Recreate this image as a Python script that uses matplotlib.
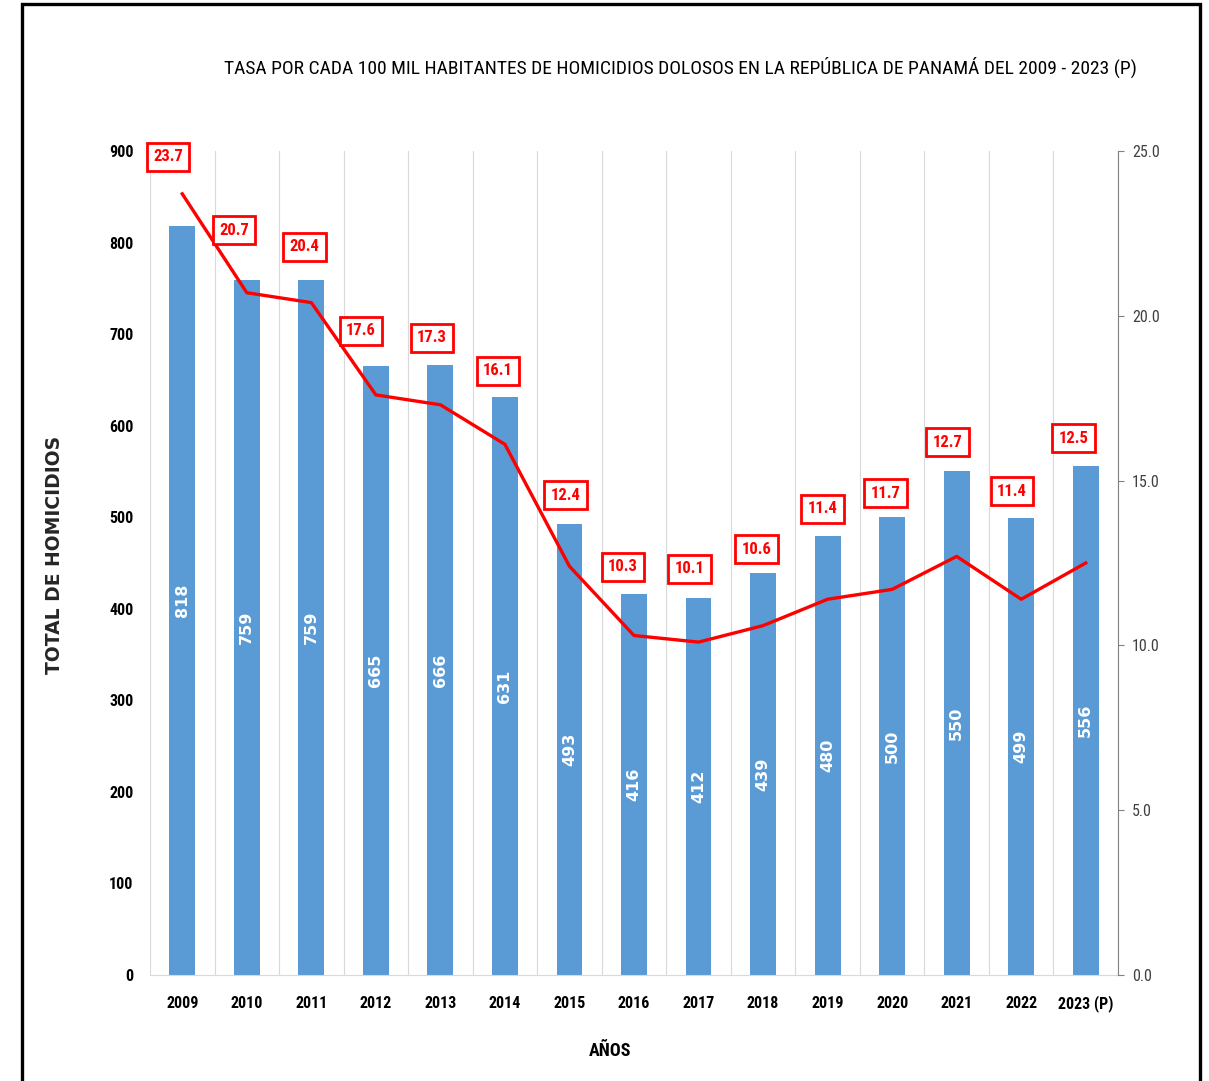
import matplotlib
matplotlib.use("Agg")
import matplotlib.pyplot as plt
from matplotlib import font_manager
from matplotlib.font_manager import FontProperties
from matplotlib.patches import Rectangle

# ---- data ----
years = ["2009", "2010", "2011", "2012", "2013", "2014", "2015", "2016",
         "2017", "2018", "2019", "2020", "2021", "2022", "2023 (P)"]
homicides = [818, 759, 759, 665, 666, 631, 493, 416, 412, 439, 480, 500, 550, 499, 556]
rates = [23.7, 20.7, 20.4, 17.6, 17.3, 16.1, 12.4, 10.3, 10.1, 10.6, 11.4, 11.7, 12.7, 11.4, 12.5]
left_ticks = [0, 100, 200, 300, 400, 500, 600, 700, 800, 900]
right_ticks = [0.0, 5.0, 10.0, 15.0, 20.0, 25.0]

# label placement (style/positions, not data)
lab_dx = [-0.22, -0.2, -0.11, -0.23, -0.13, -0.11, -0.06, -0.17, -0.14, -0.1, -0.08, -0.1, -0.14, -0.14, -0.19]
lab_dy = [1.12, 1.9, 1.69, 1.94, 2.03, 2.23, 2.16, 2.08, 2.22, 2.32, 2.74, 2.92, 3.47, 3.28, 3.79]

# find a condensed font if installed
cond = [f for f in font_manager.fontManager.ttflist
        if ("Narrow" in f.name or "Condensed" in f.name
            or str(f.stretch) in ("condensed", "semi-condensed", "extra-condensed"))]
pref = ["Liberation Sans Narrow", "Roboto Condensed", "Open Sans Condensed", "Noto Sans", "Noto Sans Condensed"]
cond.sort(key=lambda f: (pref.index(f.name) if f.name in pref else 99))
if cond:
    NF, NS = cond[0].name, cond[0].stretch
    FOUND = True
else:
    NF, NS = "Liberation Sans", "normal"
    FOUND = False


def nprop(size, weight="normal"):
    return FontProperties(family=NF, stretch=NS, weight=weight, size=size)


def wprop(size, weight="bold"):
    return FontProperties(family="DejaVu Sans", stretch="normal", weight=weight, size=size)


W, H = 1209, 1081
fig = plt.figure(figsize=(W / 100, H / 100), dpi=100)
ax = fig.add_axes([150 / W, 1 - 975 / H, (1118 - 150) / W, (975 - 151) / H])
ax2 = ax.twinx()

x = list(range(len(years)))
bar_color = "#5B9BD5"
ax.bar(x, homicides, width=0.4, color=bar_color, zorder=2)
ax.set_xlim(-0.5, len(years) - 0.5)
ax.set_ylim(0, 900)
ax.set_yticks(left_ticks)
ax.set_yticklabels([str(t) for t in left_ticks], fontproperties=nprop(11.5, "bold"))
ax.set_xticks(x)
ax.set_xticklabels(years, fontproperties=nprop(11.5, "bold"), va="baseline")
ax.tick_params(axis="x", length=0, pad=24)
ax.tick_params(axis="y", length=0, pad=12)

for b in range(len(years) + 1):
    ax.axvline(b - 0.5, color="#D9D9D9", lw=0.8, zorder=0)
for s in ["top", "left", "right"]:
    ax.spines[s].set_visible(False)
ax.spines["bottom"].set_color("#D9D9D9")

for xi, v in zip(x, homicides):
    ax.text(xi, v / 2, str(v), rotation=90, ha="center", va="center", color="white",
            fontproperties=wprop(11.5), zorder=3)

ax2.plot(x, rates, color="#FF0000", lw=2.4, zorder=4)
ax2.set_ylim(0, 25)
ax2.set_yticks(right_ticks)
ax2.set_yticklabels([f"{t:.1f}" for t in right_ticks], fontproperties=nprop(11.5), color="#404040")
ax2.tick_params(axis="y", length=4, color="#808080", direction="out", pad=6)
for s in ["top", "left", "bottom"]:
    ax2.spines[s].set_visible(False)
ax2.spines["right"].set_color("#808080")

for xi, r, dx, dy in zip(x, rates, lab_dx, lab_dy):
    ax2.text(xi + dx, r + dy, f"{r:.1f}", ha="center", va="center", color="#FF0000",
             fontproperties=nprop(12, "bold"), zorder=5,
             bbox=dict(boxstyle="square,pad=0.38", fc="white", ec="#FF0000", lw=2.0))

fig.text(680 / W, 1 - 67 / H,
         "TASA POR CADA 100 MIL HABITANTES DE HOMICIDIOS DOLOSOS EN LA REPÚBLICA DE PANAMÁ DEL 2009 - 2023 (P)",
         ha="center", va="center", fontproperties=nprop(14.0 if FOUND else 12.5), color="black")
fig.text(55 / W, 1 - 555 / H, "TOTAL DE HOMICIDIOS", rotation=90, ha="center", va="center",
         fontproperties=wprop(13.5), color="#262626")
fig.text(610 / W, 1 - 1051 / H, "AÑOS", ha="center", va="center",
         fontproperties=nprop(13, "bold"), color="black")

fig.patches.append(Rectangle((22 / W, -0.05), (1200 - 22) / W, 1.05 - 4 / H, transform=fig.transFigure,
                             fill=False, ec="black", lw=2.4, clip_on=False))

fig.savefig("out.png", dpi=100)
